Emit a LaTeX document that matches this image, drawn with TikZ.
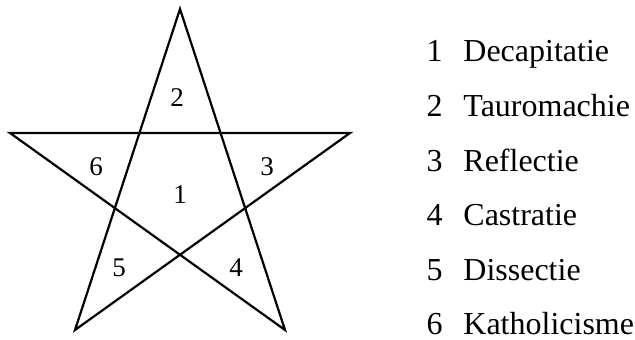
\documentclass[tikz,border=0pt]{standalone}
\usepackage{fontspec}
\setmainfont{Liberation Serif}
\usepackage{tikz}
\usetikzlibrary{positioning}

\begin{document}
\begin{tikzpicture}[
  x=0.5pt,y=0.5pt,
  star/.style={draw=black,line width=1.1pt,line join=miter},
  nr/.style={font=\fontsize{13.5}{16}\selectfont,inner sep=0pt},
  item/.style={font=\fontsize{16}{19}\selectfont,inner sep=0pt}
]
  \useasboundingbox (0,0) rectangle (635,340);
  % Pentagram.
  \coordinate (top) at (180,331);
  \coordinate (left) at (10,207);
  \coordinate (right) at (350,207);
  \coordinate (botl) at (75,10);
  \coordinate (botr) at (285,10);
  \draw[star] (top)--(botl)--(right)--(left)--(botr)--cycle;

  % Vakjes.
  \node[nr] (v1) at (180,145) {1};
  \node[nr] (v2) at (177,242) {2};
  \node[nr] (v3) at (267,173) {3};
  \node[nr] (v4) at (236,72) {4};
  \node[nr] (v5) at (119,72) {5};
  \node[nr] (v6) at (96,173) {6};

  % Legenda.
  \foreach \i/\y/\woord in {1/278/Decapitatie,2/223/Tauromachie,3/168/Reflectie,
                            4/114/Castratie,5/59/Dissectie,6/5/Katholicisme}
  {
    \node[item,anchor=base east] (n\i) at (443,\y) {\i};
    \node[item,anchor=base west] (w\i) at (463,\y) {\woord};
  }
\end{tikzpicture}
\end{document}
